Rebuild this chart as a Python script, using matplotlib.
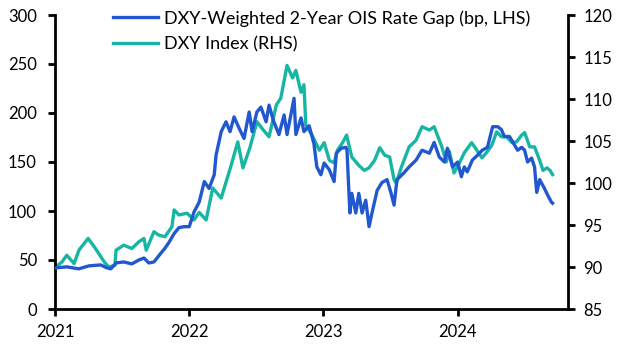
import matplotlib
matplotlib.use("Agg")
import matplotlib.pyplot as plt
import pandas as pd

plt.rcParams['font.family'] = ['Lato', 'DejaVu Sans']
plt.rcParams['font.size'] = 12

# DXY-weighted 2-year OIS rate gap (bp, LHS)
gap_dates = ["2021-01-03", "2021-02-02", "2021-03-07", "2021-04-03", "2021-05-05", "2021-05-22",
             "2021-06-02", "2021-06-16", "2021-07-07", "2021-07-29", "2021-08-17", "2021-08-31",
             "2021-09-13", "2021-09-27", "2021-10-16", "2021-10-27", "2021-11-07", "2021-11-21",
             "2021-12-04", "2021-12-18", "2022-01-01", "2022-01-14", "2022-01-28", "2022-02-11",
             "2022-02-24", "2022-03-10", "2022-03-15", "2022-03-29", "2022-04-11", "2022-04-22",
             "2022-05-03", "2022-05-16", "2022-05-30", "2022-06-13", "2022-06-21", "2022-07-04",
             "2022-07-15", "2022-07-29", "2022-08-06", "2022-08-19", "2022-09-02", "2022-09-16",
             "2022-09-24", "2022-10-13", "2022-10-18", "2022-11-01", "2022-11-09", "2022-11-23",
             "2022-12-06", "2022-12-14", "2022-12-25", "2023-01-03", "2023-01-17", "2023-01-30",
             "2023-02-05", "2023-02-18", "2023-03-03", "2023-03-06", "2023-03-11", "2023-03-14",
             "2023-03-19", "2023-03-30", "2023-04-07", "2023-04-16", "2023-04-26", "2023-05-05",
             "2023-05-13", "2023-05-27", "2023-06-09", "2023-06-23", "2023-07-04", "2023-07-12",
             "2023-07-20", "2023-08-08", "2023-08-22", "2023-09-10", "2023-09-26", "2023-10-16",
             "2023-10-29", "2023-11-12", "2023-11-26", "2023-12-04", "2023-12-18", "2024-01-01",
             "2024-01-11", "2024-01-19", "2024-01-27", "2024-02-10", "2024-02-24", "2024-03-08",
             "2024-03-22", "2024-04-05", "2024-04-19", "2024-04-29", "2024-05-07", "2024-05-21",
             "2024-06-04", "2024-06-12", "2024-06-23", "2024-07-01", "2024-07-09", "2024-07-20",
             "2024-07-28", "2024-08-03", "2024-08-11", "2024-08-24", "2024-09-02", "2024-09-12",
             "2024-09-15"]
gap_values = [42, 43, 41, 44, 45, 42,
              41, 47, 48, 46, 50, 52,
              47, 48, 57, 62, 68, 77,
              83, 84, 84, 99, 109, 130,
              123, 137, 157, 181, 191, 181,
              196, 185, 174, 201, 181, 201,
              206, 191, 208, 191, 178, 198,
              178, 215, 178, 195, 181, 187,
              169, 145, 137, 149, 142, 130,
              159, 164, 165, 162, 121, 98,
              118, 98, 118, 98, 111, 84,
              98, 121, 129, 132, 118, 106,
              132, 139, 145, 152, 162, 159,
              170, 155, 150, 164, 145, 150,
              135, 145, 140, 152, 157, 162,
              165, 186, 186, 183, 176, 176,
              167, 162, 165, 162, 150, 154,
              145, 119, 132, 123, 116, 109,
              108]

# DXY index (RHS)
dxy_dates = ["2021-01-03", "2021-01-20", "2021-02-02", "2021-02-22", "2021-03-07", "2021-04-01",
             "2021-04-18", "2021-05-03", "2021-05-15", "2021-05-27", "2021-06-13", "2021-06-16",
             "2021-07-07", "2021-07-29", "2021-08-17", "2021-08-31", "2021-09-06", "2021-09-27",
             "2021-10-10", "2021-10-27", "2021-11-15", "2021-11-21", "2021-12-04", "2021-12-26",
             "2022-01-14", "2022-01-28", "2022-02-16", "2022-03-06", "2022-03-29", "2022-04-11",
             "2022-04-25", "2022-05-13", "2022-05-27", "2022-06-15", "2022-07-04", "2022-07-18",
             "2022-08-06", "2022-08-26", "2022-09-07", "2022-09-24", "2022-10-09", "2022-10-18",
             "2022-11-01", "2022-11-09", "2022-11-14", "2022-12-01", "2022-12-21", "2023-01-03",
             "2023-01-17", "2023-01-30", "2023-02-08", "2023-02-22", "2023-03-05", "2023-03-19",
             "2023-04-07", "2023-04-22", "2023-05-05", "2023-05-20", "2023-06-03", "2023-06-17",
             "2023-06-30", "2023-07-12", "2023-07-18", "2023-08-01", "2023-08-22", "2023-09-10",
             "2023-09-26", "2023-10-16", "2023-10-29", "2023-11-19", "2023-12-01", "2023-12-09",
             "2023-12-22", "2024-01-07", "2024-01-19", "2024-02-08", "2024-02-22", "2024-03-07",
             "2024-03-21", "2024-04-03", "2024-04-16", "2024-04-29", "2024-05-13", "2024-05-28",
             "2024-06-09", "2024-06-23", "2024-07-01", "2024-07-15", "2024-07-28", "2024-08-11",
             "2024-08-20", "2024-08-31", "2024-09-08", "2024-09-15"]
dxy_values = [90.0, 90.6, 91.4, 90.4, 92.0, 93.4,
              92.4, 91.4, 90.6, 90.0, 90.2, 92.0,
              92.6, 92.2, 93.0, 93.4, 92.0, 94.2,
              93.8, 93.6, 94.8, 96.8, 96.2, 96.4,
              95.6, 96.5, 95.6, 99.4, 98.2, 100.1,
              102.1, 104.9, 101.8, 104.2, 107.3, 106.5,
              105.5, 109.3, 110.1, 114.0, 112.5, 113.4,
              110.8, 111.7, 106.9, 105.7, 103.9, 104.8,
              102.7, 102.4, 103.9, 104.8, 105.7, 103.1,
              102.1, 101.5, 101.8, 102.7, 104.2, 103.3,
              103.1, 100.4, 100.0, 101.9, 104.3, 105.1,
              106.7, 106.3, 106.7, 104.3, 102.5, 103.8,
              101.2, 102.5, 103.6, 104.8, 103.9, 103.0,
              103.7, 104.5, 106.1, 105.5, 105.5, 104.8,
              104.9, 105.7, 106.0, 104.3, 104.3, 102.7,
              101.5, 101.8, 101.5, 101.0]

year_ticks = ["2021-01-01", "2022-01-01", "2023-01-01", "2024-01-01"]
year_labels = ["2021", "2022", "2023", "2024"]

blue = "#2158D0"
teal = "#17B5A4"

fig = plt.figure(figsize=(6.28, 3.53), dpi=100)
ax = fig.add_axes([55 / 628, 1 - 309 / 353, 513 / 628, 294 / 353])
ax2 = ax.twinx()

l2, = ax2.plot(pd.to_datetime(dxy_dates), dxy_values, color=teal, lw=2.4, zorder=2,
               label="DXY Index (RHS)")
l1, = ax.plot(pd.to_datetime(gap_dates), gap_values, color=blue, lw=2.4, zorder=3,
              label="DXY-Weighted 2-Year OIS Rate Gap (bp, LHS)")
# LHS series drawn over the RHS one
ax.set_zorder(ax2.get_zorder() + 1)
ax.patch.set_visible(False)

ax.set_xlim(pd.Timestamp("2021-01-01"), pd.Timestamp("2024-10-27"))
ax.set_ylim(0, 300)
ax2.set_ylim(85, 120)
ax.set_yticks([0, 50, 100, 150, 200, 250, 300])
ax2.set_yticks([85, 90, 95, 100, 105, 110, 115, 120])
ax.set_xticks(pd.to_datetime(year_ticks))
ax.set_xticklabels(year_labels)

for a in (ax, ax2):
    a.spines['top'].set_visible(False)
    for s in ('left', 'right', 'bottom'):
        a.spines[s].set_linewidth(2.0)
ax.spines['right'].set_visible(False)
ax2.spines['left'].set_visible(False)
ax2.spines['bottom'].set_visible(False)

ax.tick_params(axis='y', direction='out', length=5, width=2, pad=8, labelsize=12)
ax.tick_params(axis='x', direction='out', length=5, width=2, pad=6, labelsize=12)
ax2.tick_params(axis='y', direction='out', length=5, width=2, pad=6, labelsize=12)

fig.legend(handles=[l1, l2], loc='upper left', bbox_to_anchor=(104 / 628, 1 - 1 / 353),
           frameon=False, borderpad=0, handlelength=2.5, handletextpad=0.3,
           labelspacing=0.55, fontsize=13)

fig.savefig("out.png", dpi=100)
